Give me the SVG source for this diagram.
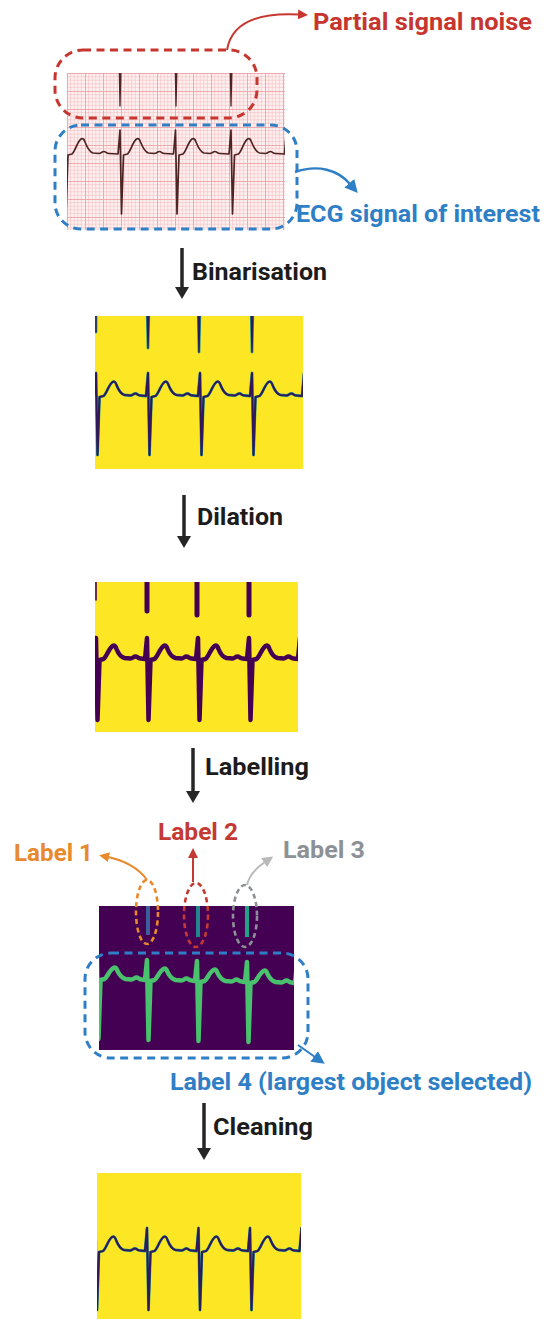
<svg xmlns="http://www.w3.org/2000/svg" width="545" height="1319" viewBox="0 0 545 1319">
  <defs>
    <style>
      text { font-family: Roboto, "Liberation Sans", Arial, sans-serif; font-weight: 700; font-size: 23px; }
      .step { fill: #1c1c1c; }
      .shaft { fill: none; stroke: #262626; stroke-width: 3.5; }
      .trace { fill: none; stroke-linejoin: round; stroke-linecap: round; }
      .box-red { fill: none; stroke: #c7362e; stroke-width: 3; stroke-dasharray: 8 5.5; }
      .box-blue { fill: none; stroke: #2f7fc6; stroke-width: 3; stroke-dasharray: 8 5.5; }
      .ell { fill: none; stroke-width: 2.6; stroke-dasharray: 5 3.5; }
    </style>
    <!-- ECG paper grid: 5 minor squares per major square -->
    <pattern id="ecgGrid" patternUnits="userSpaceOnUse" x="67" y="73" width="18" height="18">
      <rect width="18" height="18" fill="#fdf0f0"/>
      <path d="M3.6,0V18M7.2,0V18M10.8,0V18M14.4,0V18M0,3.6H18M0,7.2H18M0,10.8H18M0,14.4H18" stroke="#f5bfc2" stroke-width="0.6"/>
      <path d="M0.4,0V18M0,0.4H18" stroke="#ee9aa0" stroke-width="0.9"/>
    </pattern>
    <clipPath id="clipRaw"><rect x="67" y="73" width="218" height="157"/></clipPath>
    <clipPath id="clipBin"><rect x="95" y="316" width="208" height="153"/></clipPath>
    <clipPath id="clipDil"><rect x="95" y="582" width="203" height="150"/></clipPath>
    <clipPath id="clipLab"><rect x="99" y="906" width="195" height="144"/></clipPath>
    <clipPath id="clipCln"><rect x="97" y="1173" width="204" height="146"/></clipPath>
    <!-- arrowheads -->
    <marker id="mBlack" viewBox="0 0 12 14" refX="1" refY="7" markerWidth="12" markerHeight="14" markerUnits="userSpaceOnUse" orient="auto">
      <path d="M0,0L12,7L0,14z" fill="#262626"/>
    </marker>
    <marker id="mRed" viewBox="0 0 10 10" refX="1" refY="5" markerWidth="10" markerHeight="10" markerUnits="userSpaceOnUse" orient="auto">
      <path d="M0,0L10,5L0,10z" fill="#c7362e"/>
    </marker>
    <marker id="mBlue" viewBox="0 0 12 12" refX="1" refY="6" markerWidth="13" markerHeight="13" markerUnits="userSpaceOnUse" orient="auto">
      <path d="M0,0L12,6L0,12z" fill="#2f7fc6"/>
    </marker>
    <marker id="mOrange" viewBox="0 0 10 10" refX="1" refY="5" markerWidth="10" markerHeight="10" markerUnits="userSpaceOnUse" orient="auto">
      <path d="M0,0L10,5L0,10z" fill="#e8892c"/>
    </marker>
    <marker id="mRed2" viewBox="0 0 10 10" refX="1" refY="5" markerWidth="10" markerHeight="10" markerUnits="userSpaceOnUse" orient="auto">
      <path d="M0,0L10,5L0,10z" fill="#c43a32"/>
    </marker>
    <marker id="mGrey" viewBox="0 0 10 10" refX="1" refY="5" markerWidth="11" markerHeight="11" markerUnits="userSpaceOnUse" orient="auto">
      <path d="M0,0L10,5L0,10z" fill="#b9b9b9"/>
    </marker>
  </defs>

  <!-- raw ECG strip -->
  <g id="raw-ecg">
    <rect x="67" y="73" width="218" height="157" fill="url(#ecgGrid)"/>
    <g clip-path="url(#clipRaw)">
      <path class="trace" stroke="#4d2424" stroke-width="1.3" d="M119.4,73L120,106L120.8,73M175.4,73L176,106L176.8,73M230.4,73L231,106L231.8,73"/>
      <path class="trace" stroke="#4d2424" stroke-width="1.7" d="M62.5,154
        l2,-24 l1.5,84 l2,-59 l4,-1 c3,-2 5,-12 9,-15 c2,-1 3,0 4,3 c2,5 4,10 8,11 l6,0.5 c2,0 3,-2 5,-2 c2,0 2,2 5,2 l9,0.5
        l2,-24 l1.5,84 l2,-59 l4,-1 c3,-2 5,-12 9,-15 c2,-1 3,0 4,3 c2,5 4,10 8,11 l6,0.5 c2,0 3,-2 5,-2 c2,0 2,2 5,2 l9,0.5
        l2,-24 l1.5,84 l2,-59 l4,-1 c3,-2 5,-12 9,-15 c2,-1 3,0 4,3 c2,5 4,10 8,11 l6,0.5 c2,0 3,-2 5,-2 c2,0 2,2 5,2 l9,0.5
        l2,-24 l1.5,84 l2,-59 l4,-1 c3,-2 5,-12 9,-15 c2,-1 3,0 4,3 c2,5 4,10 8,11 l6,0.5 c2,0 3,-2 5,-2 c2,0 2,2 5,2 l9,0.5
        l2,-24"/>
    </g>
  </g>

  <!-- callouts on the raw strip -->
  <g id="noise-callout">
    <rect class="box-red" x="55" y="50" width="202" height="68" rx="28"/>
    <text x="313" y="30" fill="#c7362e" textLength="219" lengthAdjust="spacingAndGlyphs">Partial signal noise</text>
  </g>
  <g id="signal-callout">
    <rect class="box-blue" x="55" y="125" width="242" height="104" rx="26"/>
    <text x="296" y="222" fill="#2f7fc6" textLength="244" lengthAdjust="spacingAndGlyphs">ECG signal of interest</text>
  </g>

  <!-- binarised image -->
  <g id="binarised">
    <rect x="95" y="316" width="208" height="153" fill="#fde725"/>
    <g clip-path="url(#clipBin)">
      <path class="trace" stroke="#2a9d8a" stroke-width="2.8" d="M96,316V332M147.3,316L148,348L148.8,316M198.3,316L199,352L199.8,316M251.3,316L252,352L252.8,316"/>
      <path class="trace" stroke="#30195a" stroke-width="1.4" d="M96,316V332M147.3,316L148,348L148.8,316M198.3,316L199,352L199.8,316M251.3,316L252,352L252.8,316"/>
      <path class="trace" stroke="#2a9d8a" stroke-width="2.8" d="M94,396
        l2,-23 l1.5,82 l2,-58 l4,-1 c3,-2 5,-11 9,-14 c2,-1 3,0 4,3 c2,5 4,9 8,10 l6,0.5 c2,0 3,-2 5,-2 c2,0 2,2 5,2 l5.5,0.5
        l2,-23 l1.5,82 l2,-58 l4,-1 c3,-2 5,-11 9,-14 c2,-1 3,0 4,3 c2,5 4,9 8,10 l6,0.5 c2,0 3,-2 5,-2 c2,0 2,2 5,2 l5.5,0.5
        l2,-23 l1.5,82 l2,-58 l4,-1 c3,-2 5,-11 9,-14 c2,-1 3,0 4,3 c2,5 4,9 8,10 l6,0.5 c2,0 3,-2 5,-2 c2,0 2,2 5,2 l5.5,0.5
        l2,-23 l1.5,82 l2,-58 l4,-1 c3,-2 5,-11 9,-14 c2,-1 3,0 4,3 c2,5 4,9 8,10 l6,0.5 c2,0 3,-2 5,-2 c2,0 2,2 5,2 l5.5,0.5
        l2,-23"/>
      <path class="trace" stroke="#30195a" stroke-width="2.1" d="M94,396
        l2,-23 l1.5,82 l2,-58 l4,-1 c3,-2 5,-11 9,-14 c2,-1 3,0 4,3 c2,5 4,9 8,10 l6,0.5 c2,0 3,-2 5,-2 c2,0 2,2 5,2 l5.5,0.5
        l2,-23 l1.5,82 l2,-58 l4,-1 c3,-2 5,-11 9,-14 c2,-1 3,0 4,3 c2,5 4,9 8,10 l6,0.5 c2,0 3,-2 5,-2 c2,0 2,2 5,2 l5.5,0.5
        l2,-23 l1.5,82 l2,-58 l4,-1 c3,-2 5,-11 9,-14 c2,-1 3,0 4,3 c2,5 4,9 8,10 l6,0.5 c2,0 3,-2 5,-2 c2,0 2,2 5,2 l5.5,0.5
        l2,-23 l1.5,82 l2,-58 l4,-1 c3,-2 5,-11 9,-14 c2,-1 3,0 4,3 c2,5 4,9 8,10 l6,0.5 c2,0 3,-2 5,-2 c2,0 2,2 5,2 l5.5,0.5
        l2,-23"/>
    </g>
  </g>

  <!-- dilated image -->
  <g id="dilated">
    <rect x="95" y="582" width="203" height="150" fill="#fde725"/>
    <g clip-path="url(#clipDil)">
      <path class="trace" stroke="#440154" stroke-width="1.6" d="M96,582V600"/>
      <path class="trace" stroke="#440154" stroke-width="5" d="M147,580V611M197,580V615M249,580V615"/>
      <path class="trace" stroke="#440154" stroke-width="4.5" d="M94,659
        l2,-21 l1.5,82 l2,-60 l4,-1 c3,-2 5,-10 9,-13 c2,-1 3,0 4,3 c2,5 4,8 8,9 l6,0.5 c2,0 3,-2 5,-2 c2,0 2,2 5,2 l4.5,0.5
        l2,-21 l1.5,82 l2,-60 l4,-1 c3,-2 5,-10 9,-13 c2,-1 3,0 4,3 c2,5 4,8 8,9 l6,0.5 c2,0 3,-2 5,-2 c2,0 2,2 5,2 l4.5,0.5
        l2,-21 l1.5,82 l2,-60 l4,-1 c3,-2 5,-10 9,-13 c2,-1 3,0 4,3 c2,5 4,8 8,9 l6,0.5 c2,0 3,-2 5,-2 c2,0 2,2 5,2 l4.5,0.5
        l2,-21 l1.5,82 l2,-60 l4,-1 c3,-2 5,-10 9,-13 c2,-1 3,0 4,3 c2,5 4,8 8,9 l6,0.5 c2,0 3,-2 5,-2 c2,0 2,2 5,2 l4.5,0.5
        l2,-21"/>
    </g>
  </g>

  <!-- labelled image -->
  <g id="labelled">
    <rect x="99" y="906" width="195" height="144" fill="#440154"/>
    <g clip-path="url(#clipLab)">
      <rect x="146" y="906" width="4" height="29" fill="#3b5f99"/>
      <rect x="196" y="906" width="4" height="31" fill="#23868f"/>
      <rect x="245" y="906" width="4" height="31" fill="#22a287"/>
      <path class="trace" stroke="#4ac16d" stroke-width="4.5" d="M95,979
        l2,-20 l1.5,80 l2,-59 l4,-1 c3,-2 5,-9 9,-11 c2,-1 3,0 4,3 c2,4 4,7 8,8 l6,0.5 c2,0 3,-2 5,-2 c2,0 2,2 5,2 l3.5,0.5
        l2,-20 l1.5,80 l2,-59 l4,-1 c3,-2 5,-9 9,-11 c2,-1 3,0 4,3 c2,4 4,7 8,8 l6,0.5 c2,0 3,-2 5,-2 c2,0 2,2 5,2 l3.5,0.5
        l2,-20 l1.5,80 l2,-59 l4,-1 c3,-2 5,-9 9,-11 c2,-1 3,0 4,3 c2,4 4,7 8,8 l6,0.5 c2,0 3,-2 5,-2 c2,0 2,2 5,2 l3.5,0.5
        l2,-20 l1.5,80 l2,-59 l4,-1 c3,-2 5,-9 9,-11 c2,-1 3,0 4,3 c2,4 4,7 8,8 l6,0.5 c2,0 3,-2 5,-2 c2,0 2,2 5,2 l3.5,0.5
        l2,-20"/>
    </g>
  </g>

  <!-- label callouts -->
  <g id="label-1">
    <ellipse class="ell" stroke="#e8892c" cx="147" cy="912" rx="11" ry="32"/>
    <text x="14" y="861" fill="#e8892c" textLength="79" lengthAdjust="spacingAndGlyphs">Label 1</text>
  </g>
  <g id="label-2">
    <ellipse class="ell" stroke="#c43a32" cx="196" cy="915" rx="12" ry="32"/>
    <text x="158" y="840" fill="#c43a32" textLength="80" lengthAdjust="spacingAndGlyphs">Label 2</text>
  </g>
  <g id="label-3">
    <ellipse class="ell" stroke="#8c9196" cx="245" cy="916" rx="12" ry="31"/>
    <text x="283" y="858" fill="#8c9196" textLength="82" lengthAdjust="spacingAndGlyphs">Label 3</text>
  </g>
  <g id="label-4">
    <rect class="box-blue" x="85" y="953" width="223" height="105" rx="26"/>
    <text x="170" y="1090" fill="#2f7fc6" textLength="362" lengthAdjust="spacingAndGlyphs">Label 4 (largest object selected)</text>
  </g>

  <!-- cleaned image -->
  <g id="cleaned">
    <rect x="97" y="1173" width="204" height="146" fill="#fde725"/>
    <g clip-path="url(#clipCln)">
      <path class="trace" stroke="#2a9d8a" stroke-width="2.8" d="M93.5,1251
        l2,-23 l1.5,82 l2,-58 l4,-1 c3,-2 5,-11 9,-14 c2,-1 3,0 4,3 c2,5 4,9 8,10 l6,0.5 c2,0 3,-2 5,-2 c2,0 2,2 5,2 l5,0.5
        l2,-23 l1.5,82 l2,-58 l4,-1 c3,-2 5,-11 9,-14 c2,-1 3,0 4,3 c2,5 4,9 8,10 l6,0.5 c2,0 3,-2 5,-2 c2,0 2,2 5,2 l5,0.5
        l2,-23 l1.5,82 l2,-58 l4,-1 c3,-2 5,-11 9,-14 c2,-1 3,0 4,3 c2,5 4,9 8,10 l6,0.5 c2,0 3,-2 5,-2 c2,0 2,2 5,2 l5,0.5
        l2,-23 l1.5,82 l2,-58 l4,-1 c3,-2 5,-11 9,-14 c2,-1 3,0 4,3 c2,5 4,9 8,10 l6,0.5 c2,0 3,-2 5,-2 c2,0 2,2 5,2 l5,0.5
        l2,-23"/>
      <path class="trace" stroke="#30195a" stroke-width="2.1" d="M93.5,1251
        l2,-23 l1.5,82 l2,-58 l4,-1 c3,-2 5,-11 9,-14 c2,-1 3,0 4,3 c2,5 4,9 8,10 l6,0.5 c2,0 3,-2 5,-2 c2,0 2,2 5,2 l5,0.5
        l2,-23 l1.5,82 l2,-58 l4,-1 c3,-2 5,-11 9,-14 c2,-1 3,0 4,3 c2,5 4,9 8,10 l6,0.5 c2,0 3,-2 5,-2 c2,0 2,2 5,2 l5,0.5
        l2,-23 l1.5,82 l2,-58 l4,-1 c3,-2 5,-11 9,-14 c2,-1 3,0 4,3 c2,5 4,9 8,10 l6,0.5 c2,0 3,-2 5,-2 c2,0 2,2 5,2 l5,0.5
        l2,-23 l1.5,82 l2,-58 l4,-1 c3,-2 5,-11 9,-14 c2,-1 3,0 4,3 c2,5 4,9 8,10 l6,0.5 c2,0 3,-2 5,-2 c2,0 2,2 5,2 l5,0.5
        l2,-23"/>
    </g>
  </g>

  <!-- step labels -->
  <g id="step-labels">
    <text class="step" x="192" y="280" textLength="135" lengthAdjust="spacingAndGlyphs">Binarisation</text>
    <text class="step" x="197" y="525" textLength="86" lengthAdjust="spacingAndGlyphs">Dilation</text>
    <text class="step" x="205" y="775" textLength="104" lengthAdjust="spacingAndGlyphs">Labelling</text>
    <text class="step" x="213" y="1135" textLength="100" lengthAdjust="spacingAndGlyphs">Cleaning</text>
  </g>

  <!-- connectors -->
  <g id="connectors">
    <path class="shaft" d="M182,248V288" marker-end="url(#mBlack)"/>
    <path class="shaft" d="M184,495V537" marker-end="url(#mBlack)"/>
    <path class="shaft" d="M193,748V792" marker-end="url(#mBlack)"/>
    <path class="shaft" d="M204,1103V1149" marker-end="url(#mBlack)"/>
    <path fill="none" stroke="#c7362e" stroke-width="2" d="M227,50C231,26 252,12 299,14.5" marker-end="url(#mRed)"/>
    <path fill="none" stroke="#2f7fc6" stroke-width="2.4" d="M295,172C318,164 338,170 350,184" marker-end="url(#mBlue)"/>
    <path fill="none" stroke="#e8892c" stroke-width="2" d="M147,880C139,868 123,860 108,857" marker-end="url(#mOrange)"/>
    <path fill="none" stroke="#c43a32" stroke-width="2" d="M193,882V857" marker-end="url(#mRed2)"/>
    <path fill="none" stroke="#b9b9b9" stroke-width="2" d="M247,885C249,876 256,868 265,862" marker-end="url(#mGrey)"/>
    <path fill="none" stroke="#2f7fc6" stroke-width="2" d="M298,1045L315,1057" marker-end="url(#mBlue)"/>
  </g>
</svg>
